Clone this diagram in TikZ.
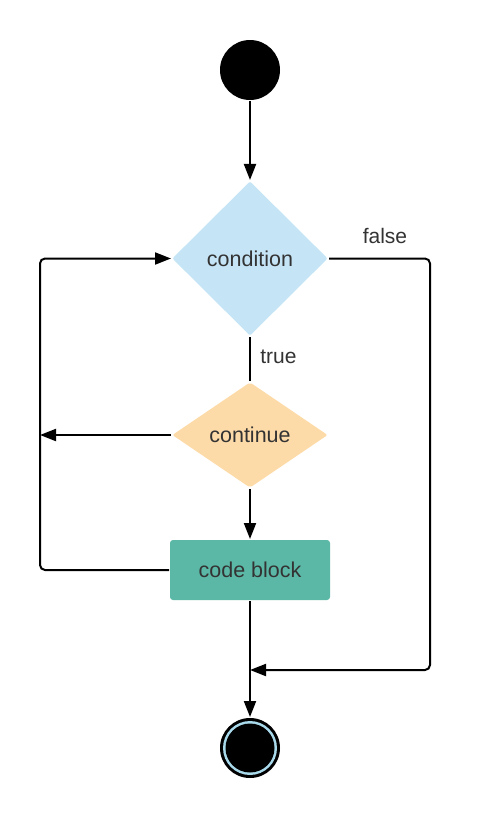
\documentclass[tikz,border=0pt]{standalone}
\usepackage{fontspec}
\setmainfont{Liberation Sans}
\usetikzlibrary{arrows.meta, shapes.geometric}
\definecolor{condblue}{HTML}{C5E4F6}
\definecolor{contpeach}{HTML}{FDDBA9}
\definecolor{codegreen}{HTML}{5CB8A6}
\definecolor{ringblue}{HTML}{A9DAEC}
\definecolor{labelgray}{HTML}{333333}

\begin{document}
\begin{tikzpicture}[x=1pt,y=-1pt,line width=2pt,>={Triangle[length=16pt,width=12pt]}]
    \tikzstyle{every node}=[font=\fontsize{21.5}{25}\selectfont, text=labelgray]
    \tikzstyle{decision}=[diamond, inner sep=0pt, rounded corners=2pt, draw=none, text depth=0pt]
    \tikzstyle{block}=[rectangle, fill=codegreen, rounded corners=3pt, minimum width=160pt, minimum height=60pt, inner sep=0pt, text depth=0pt]
    \tikzstyle{edge label}=[font=\fontsize{21}{24}\selectfont]

    \useasboundingbox (0,0) rectangle (480,820);

    \node[circle, fill=black, minimum size=60pt, inner sep=0pt] (start) at (250,70) {};
    \node[decision, fill=condblue, minimum width=156pt, minimum height=155pt] (cond) at (250,258.5) {condition};
    \node[decision, fill=contpeach, minimum width=156pt, minimum height=106pt] (cont) at (250,435) {continue};
    \node[block] (code) at (250,570) {code block};
    \node[circle, fill=black, minimum size=60pt, inner sep=0pt] (stop) at (250,748) {};
    \fill[ringblue] (stop.center) circle (27pt);
    \fill[black] (stop.center) circle (24.5pt);

    \coordinate (left) at (40,435);
    \coordinate (right) at (430,670);
    \coordinate (join) at (250,670);

    \draw[->] (start) -- (cond);
    \draw (cond) -- node[edge label, right, pos=0.45, xshift=6pt] {true} (cont);
    \draw[->] (cont) -- (code);
    \draw[->] (cont.west) -- (left);
    \draw[->, rounded corners=5pt] (code.west) -| (left) |- (cond.west);
    \draw[->] (code) -- (stop);
    \draw[->, rounded corners=5pt] (cond.east) -| (right) -- (join);

    \node[edge label] (falsetxt) at (385,236) {false};
\end{tikzpicture}
\end{document}
